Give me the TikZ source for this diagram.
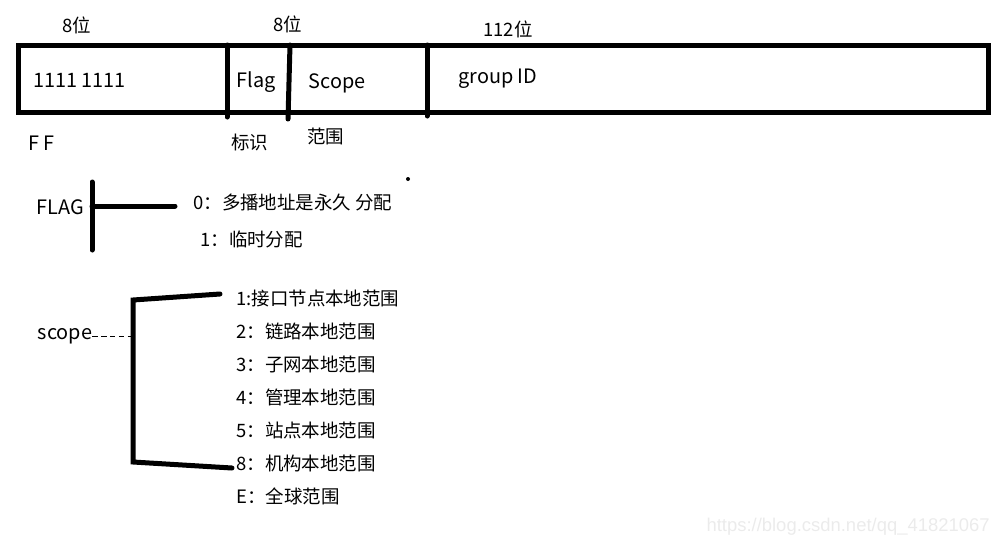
\documentclass[tikz,border=0pt]{standalone}
\usepackage{fontspec}
\setmainfont{Noto Sans CJK SC}
\newfontfamily\markfont{Liberation Sans}
\usetikzlibrary{positioning}
\tikzset{
  bar/.style={line width=1mm, line cap=round},
  txt/.style={font=\fontsize{10.5}{12}\selectfont, inner sep=0pt, anchor=west},
  lat/.style={txt, font=\fontsize{11.3}{13}\selectfont},
  mid/.style={txt, anchor=center},
}

\begin{document}
\begin{tikzpicture}[x=0.2mm, y=-0.2mm]
  \useasboundingbox (0,0) rectangle (1000,546);
  % address frame
  \draw[bar, line cap=butt] (18,45) rectangle (988,112);
  \draw[bar] (227,45) -- (227,117);
  \draw[bar] (290,45) -- (288,119);
  \draw[bar] (427,45) -- (427,116);
  \node[mid] (w1) at (77,25) {8位};
  \node[mid] (w2) at (288,24) {8位};
  \node[mid] (w3) at (508,29) {112位};
  \node[lat] (ones) at (33,80) {1111 1111};
  \node[lat, anchor=center] (flagf) at (256,82) {Flag};
  \node[lat, anchor=center] (scopef) at (337,83) {Scope};
  \node[lat] (gid) at (458,79) {group ID};
  \node[lat] (ff) at (28,143) {F F};
  \node[txt] (biaoshi) at (231,142) {标识};
  \node[txt] (fanwei) at (307,136) {范围};
  \fill (408,179) circle (0.4mm);
  % flag values
  \node[lat, anchor=center] (flag) at (60,207) {FLAG};
  \draw[bar] (92,182) -- (92,250);
  \coordinate (fj) at (92,206);
  \node[txt] (f0) at (193,202) {0：多播地址是永久 分配};
  \node[txt] (f1) at (200,239) {1：临时分配};
  \draw[bar] (fj) -- ([xshift=-3.6mm]f0.west |- fj);
  % scope values
  \node[lat, anchor=center] (scope) at (65,336) {scope};
  \foreach \t [count=\i] in {1:接口节点本地范围, 2：链路本地范围, 3：子网本地范围, 4：管理本地范围, 5：站点本地范围, 8：机构本地范围, E：全球范围}
    \node[txt] (s\i) at (236,265+33*\i) {\t};
  \draw[line width=0.5pt, dash pattern=on 3pt off 2pt] (scope.east) -- (131,336);
  \draw[bar] ([shift={(-16,-4)}]s1.west) -- (133,300) -- (133,462) -- ([shift={(-4,5)}]s6.west);
  \node[txt, anchor=east, font=\markfont\fontsize{10.5}{12}\selectfont, text=black!8] (mark) at (990,527) {https://blog.csdn.net/qq\_41821067};
\end{tikzpicture}
\end{document}
